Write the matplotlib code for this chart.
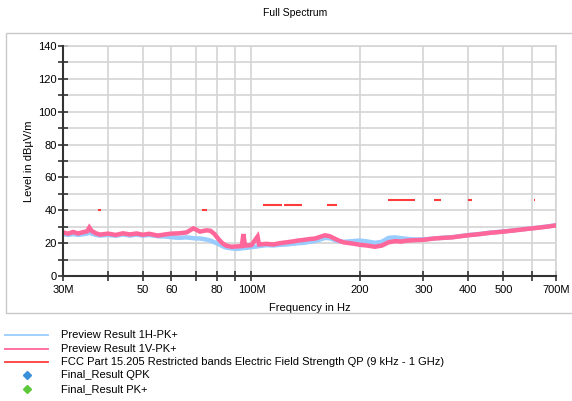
import matplotlib
matplotlib.use("Agg")
import matplotlib.pyplot as plt
from matplotlib.lines import Line2D
from matplotlib.patches import Rectangle

plt.rcParams['font.family'] = ['Liberation Sans', 'DejaVu Sans']

# --- data (MHz / dBuV/m) ---
freq = [30, 31, 32, 33, 34, 35, 35.5, 36, 37, 38,
        40, 42, 44, 46, 48, 50, 52, 55, 58, 60,
        63, 66, 69, 72, 75, 77, 79, 81, 83, 85,
        88, 91, 94, 95, 96, 100, 104, 105, 110, 115,
        120, 125, 130, 135, 140, 145, 150, 155, 160, 165,
        170, 175, 180, 190, 200, 210, 220, 230, 240, 250,
        260, 270, 285, 300, 320, 340, 360, 380, 400, 430,
        460, 500, 540, 580, 620, 660, 700]

level_v = [26.5, 25.8, 26.8, 25.9, 26.6, 27.2, 29.5, 27.5, 26.0, 25.2,
           25.8, 25.0, 26.0, 25.3, 25.9, 25.1, 25.7, 24.6, 25.4, 25.8,
           26.0, 26.5, 29.0, 27.0, 27.8, 27.5, 25.5, 22.5, 20.0, 18.5,
           17.8, 18.0, 18.2, 25.5, 18.5, 18.8, 24.0, 19.2, 19.6, 19.2,
           20.0, 20.5, 21.0, 21.6, 22.0, 22.5, 22.8, 23.8, 24.8, 24.2,
           22.8, 21.5, 20.5, 19.8, 19.0, 18.5, 17.8, 18.5, 20.5, 21.2,
           21.0, 21.5, 21.8, 22.0, 22.8, 23.2, 23.5, 24.2, 24.8, 25.5,
           26.3, 27.0, 27.8, 28.6, 29.3, 30.0, 30.8]

level_h = [25.5, 25.0, 25.6, 25.0, 25.4, 25.8, 26.5, 25.8, 25.0, 24.6,
           25.0, 24.5, 25.3, 24.6, 25.2, 24.6, 25.0, 24.2, 24.0, 23.6,
           23.2, 23.5, 23.0, 22.8, 22.2, 21.5, 20.5, 19.5, 18.2, 17.3,
           16.8, 16.5, 16.8, 17.2, 17.0, 17.6, 18.0, 18.2, 18.8, 18.6,
           19.0, 19.2, 19.6, 20.0, 20.2, 20.8, 21.3, 22.2, 23.2, 23.0,
           22.0, 21.2, 20.8, 21.2, 21.6, 21.0, 20.2, 20.8, 23.2, 23.5,
           23.0, 22.6, 22.2, 22.3, 22.8, 23.3, 23.6, 24.3, 24.9, 25.6,
           26.4, 27.1, 27.9, 28.7, 29.4, 30.1, 30.9]

# FCC 15.205 restricted bands inside 30 MHz - 700 MHz, with the 15.209 limit
band_start = [37.5, 73, 74.8, 108, 123, 149.9, 156.52475, 156.7, 162.0125, 167.72, 240, 322, 399.9, 608]
band_stop = [38.25, 74.6, 75.2, 121.94, 138, 150.05, 156.52525, 156.9, 167.17, 173.2, 285, 335.4, 410, 614]
band_limit = [40, 40, 40, 43.5, 43.5, 43.5, 43.5, 43.5, 43.5, 43.5, 46, 46, 46, 46]

xtick_vals = [30, 40, 50, 60, 70, 80, 90, 100, 200, 300, 400, 500, 600, 700]
xtick_labels = ["30M", "", "50", "60", "", "80", "", "100M", "200", "300", "400", "500", "", "700M"]

legend_labels = ["Preview Result 1H-PK+", "Preview Result 1V-PK+",
                 "FCC Part 15.205 Restricted bands Electric Field Strength QP (9 kHz - 1 GHz)",
                 "Final_Result QPK", "Final_Result PK+"]

c_h = "#99CCFF"
c_v = "#FF6699"
c_lim = "#FF3B3B"

W, H = 572, 401
fig = plt.figure(figsize=(W / 100, H / 100), dpi=100)

# outer light frame
fig.add_artist(Rectangle((6 / W, 1 - 313 / H), (W + 10) / W, (313 - 33) / H,
                         transform=fig.transFigure, fill=False, ec="#C8C8C8", lw=1))

ax = fig.add_axes([63 / W, 1 - 276 / H, (556 - 63) / W, (276 - 46) / H])
ax.set_xscale("log")
ax.set_xlim(30, 700)
ax.set_ylim(0, 140)

ax.plot(freq, level_h, color=c_h, lw=3.2, solid_joinstyle="miter", zorder=3)
ax.plot(freq, level_v, color=c_v, lw=3.2, solid_joinstyle="miter", zorder=4)
for f0, f1, lv in zip(band_start, band_stop, band_limit):
    ax.plot([f0, f1], [lv, lv], color=c_lim, lw=1.5, solid_capstyle="butt", zorder=5)

ax.set_xticks(xtick_vals)
ax.set_xticklabels(xtick_labels)
ax.xaxis.set_minor_locator(matplotlib.ticker.NullLocator())
ax.set_yticks(range(0, 141, 20))
ax.set_yticks(range(0, 141, 10), minor=True)
ax.tick_params(axis="both", which="both", direction="inout", length=7, width=1.2,
               color="#333333", labelsize=8, labelcolor="black")
ax.tick_params(axis="y", pad=1)
ax.tick_params(axis="x", pad=3)

ax.grid(True, which="major", axis="x", color="#D4D4D4", lw=1.2)
ax.grid(True, which="both", axis="y", color="#D4D4D4", lw=1.2)
ax.set_axisbelow(True)

for s in ["top", "right"]:
    ax.spines[s].set_color("#D4D4D4")
    ax.spines[s].set_linewidth(1.2)
for s in ["left", "bottom"]:
    ax.spines[s].set_color("#333333")
    ax.spines[s].set_linewidth(1.5)
ax.spines["left"].set_zorder(6)
ax.spines["bottom"].set_zorder(6)

ax.set_ylabel("Level in dBµV/m", fontsize=8, labelpad=3)
ax.set_xlabel("Frequency in Hz", fontsize=8, labelpad=6)

fig.text(295 / W, 1 - 13 / H, "Full Spectrum", ha="center", va="center", fontsize=7.5)

# legend below the frame
rows_y = [335, 349, 362, 375, 389]
for i, (lab, yy) in enumerate(zip(legend_labels, rows_y)):
    yf = 1 - yy / H
    if i < 3:
        col = [c_h, c_v, c_lim][i]
        fig.add_artist(Line2D([5 / W, 48 / W], [yf, yf], transform=fig.transFigure,
                              color=col, lw=1.3))
    else:
        col = ["#3A8FD9", "#5CC83A"][i - 3]
        fig.add_artist(Line2D([27 / W], [yf], transform=fig.transFigure, marker="D",
                              ms=4, color=col, lw=0))
    fig.text(61 / W, yf, lab, ha="left", va="center", fontsize=8)

fig.savefig("out.png", dpi=100)
